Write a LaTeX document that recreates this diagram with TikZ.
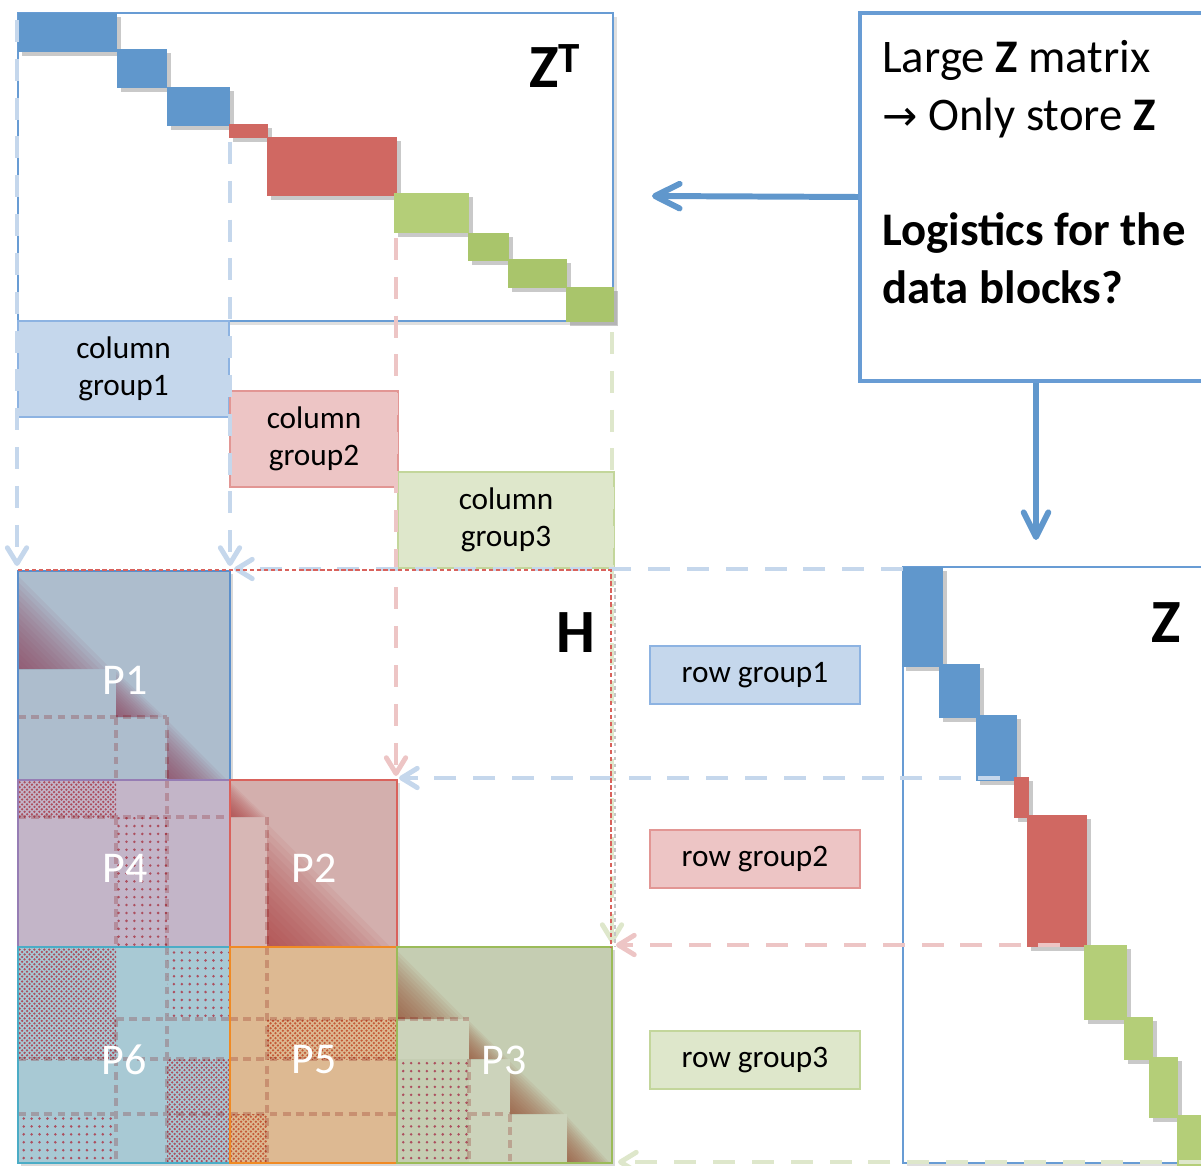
\documentclass[tikz,border=0pt]{standalone}
\usepackage{fontspec}
\setmainfont{Carlito}
\newfontfamily\arrowfont{DejaVu Sans}
\usetikzlibrary{arrows.meta,shadows,patterns.meta}

\definecolor{zblue}{RGB}{96,151,204}
\definecolor{zred}{RGB}{208,104,98}
\definecolor{zgreen}{RGB}{180,206,120}
\definecolor{zgreendk}{RGB}{169,197,107}
\definecolor{frameblue}{RGB}{104,156,212}
\definecolor{grpblue}{RGB}{197,215,236}
\definecolor{grpblueln}{RGB}{141,179,226}
\definecolor{grpred}{RGB}{237,197,197}
\definecolor{grpredln}{RGB}{226,150,148}
\definecolor{grpgreen}{RGB}{222,231,203}
\definecolor{grpgreenln}{RGB}{195,214,155}
\definecolor{pone}{RGB}{173,189,205}
\definecolor{ponefr}{RGB}{91,143,203}
\definecolor{pfour}{RGB}{195,181,200}
\definecolor{pfourfr}{RGB}{150,125,180}
\definecolor{ptwo}{RGB}{211,175,173}
\definecolor{ptwofr}{RGB}{217,98,92}
\definecolor{psix}{RGB}{168,201,212}
\definecolor{psixfr}{RGB}{75,172,198}
\definecolor{pfive}{RGB}{221,185,146}
\definecolor{pfivefr}{RGB}{240,138,36}
\definecolor{pthree}{RGB}{197,205,178}
\definecolor{pthreefr}{RGB}{155,187,89}
\definecolor{gradone}{RGB}{140,60,85}
\definecolor{gradtwo}{RGB}{172,58,58}
\definecolor{gradthree}{RGB}{150,75,50}
\definecolor{hatch}{RGB}{172,78,94}
\definecolor{hatchor}{RGB}{196,90,55}

% lower triangle of a diagonal block, darkest in its lower left corner
\newcommand{\diagtri}[5]{%
	\foreach \f in {0.95,0.89,...,0.05}
		\fill [#5,opacity=.07] ({#1},{#4-\f*(#4-#2)}) -- ({#1},{#4}) -- ({#1+\f*(#3-#1)},{#4}) -- cycle;%
}

\begin{document}
\begin{tikzpicture}[x=0.02cm,y=-0.02cm]
	\tikzstyle{every node}+=[inner sep=0pt]
	\tikzstyle{mframe}=[draw=frameblue,line width=0.9pt,fill=white,drop shadow={shadow xshift=2pt,shadow yshift=-2pt,opacity=.25,fill=black!50}]
	\tikzstyle{mblock}=[drop shadow={shadow xshift=2pt,shadow yshift=-2pt,opacity=.35,fill=black!60}]
	\tikzstyle{hblock}=[drop shadow={shadow xshift=1.5pt,shadow yshift=-1.5pt,opacity=.3,fill=black!50}]
	\tikzstyle{hframe}=[line width=1.1pt]
	\tikzstyle{subgrid}=[draw=red!50!black,draw opacity=.22,line width=2.2pt,dash pattern=on 4.5pt off 3pt]
	\tikzset{checks/.style={pattern={Dots[distance=2.8pt,radius=.72pt]},pattern color=#1,
		postaction={pattern={Dots[distance=2.8pt,radius=.72pt,xshift=1.4pt,yshift=1.4pt]},pattern color=#1}}}
	\tikzset{spots/.style={pattern={Dots[distance=4.5pt,radius=.8pt]},pattern color=#1}}
	\tikzstyle{grpbox}=[line width=0.9pt,align=center,font=\fontsize{17.8}{21}\selectfont]
	\tikzstyle{plabel}=[font=\fontsize{25}{25}\selectfont,text=white]
	\tikzstyle{mlabel}=[font=\fontsize{35}{35}\selectfont\bfseries,anchor=base west]
	\tikzstyle{guide}=[line width=2.8pt,dash pattern=on 12.5pt off 9.6pt,-{Straight Barb[length=9pt,width=11pt,round]}]
	\tikzstyle{solidarrow}=[draw=zblue,line width=3.4pt,-{Straight Barb[length=14pt,width=14pt,round]}]

	\useasboundingbox (0,0) rectangle (1201,1166);

	% the two factor matrices
	\filldraw [mframe] (18,13) rectangle (613,321);
	\filldraw [mframe] (903,567) rectangle (1260,1163);

	\fill [zblue,mblock] (18,13) rectangle (117,52);
	\fill [zblue,mblock] (117,49) rectangle (167,88);
	\fill [zblue,mblock] (167,87) rectangle (230,126);
	\fill [zred,mblock] (229,124) rectangle (268,138);
	\fill [zred,mblock] (267,137) rectangle (397,196);
	\fill [zgreen,mblock] (394,193) rectangle (469,233);
	\fill [zgreendk,mblock] (468,233) rectangle (509,261);
	\fill [zgreendk,mblock] (508,259) rectangle (567,288);
	\fill [zgreendk,mblock] (566,287) rectangle (614,322);

	\fill [zblue,mblock] (902,567) rectangle (943,667);
	\fill [zblue,mblock] (939,664) rectangle (980,718);
	\fill [zblue,mblock] (976,715) rectangle (1017,781);
	\fill [zred,mblock] (1014,777) rectangle (1029,818);
	\fill [zred,mblock] (1027,815) rectangle (1087,947);
	\fill [zgreen,mblock] (1084,945) rectangle (1127,1020);
	\fill [zgreen,mblock] (1124,1017) rectangle (1153,1060);
	\fill [zgreen,mblock] (1149,1057) rectangle (1178,1118);
	\fill [zgreen,mblock] (1177,1115) rectangle (1215,1170);

	% P1
	\fill [pone,hblock] (18,571) rectangle (230,780);
	\diagtri{18}{571}{116}{669}{gradone}
	\diagtri{116}{669}{167}{717}{gradone}
	\diagtri{167}{717}{230}{780}{gradone}
	\draw [subgrid] (18,717) -- (167,717) (116,717) -- (116,780) (167,717) -- (167,780);
	\draw [hframe,ponefr] (18,571) rectangle (230,780);

	% P4
	\fill [pfour,hblock] (18,780) rectangle (230,947);
	\fill [checks=hatch] (18,780) rectangle (116,817);
	\fill [spots=hatch] (116,817) rectangle (167,947);
	\draw [subgrid] (18,817) -- (230,817) (116,817) -- (116,947) (167,780) -- (167,947);
	\draw [hframe,pfourfr] (18,780) rectangle (230,947);

	% P2
	\fill [ptwo,hblock] (230,780) rectangle (397,947);
	\diagtri{230}{780}{268}{817}{gradtwo}
	\fill [white,opacity=.1] (230,817) rectangle (267,947);
	\diagtri{267}{817}{397}{947}{gradtwo}
	\draw [subgrid] (267,817) -- (267,947);
	\draw [hframe,ptwofr] (230,780) rectangle (397,947);

	% P6
	\fill [psix,hblock] (18,947) rectangle (230,1163);
	\fill [checks=hatch] (18,947) rectangle (116,1059);
	\fill [checks=hatch] (167,1059) rectangle (230,1163);
	\fill [spots=hatch] (18,1114) rectangle (116,1163);
	\fill [spots=hatch] (167,947) rectangle (230,1019);
	\draw [subgrid] (116,1019) -- (116,1163) (167,947) -- (167,1163) (116,1019) -- (230,1019) (18,1059) -- (230,1059) (18,1114) -- (230,1114);
	\draw [hframe,psixfr] (18,947) rectangle (230,1163);

	% P5
	\fill [pfive,hblock] (230,947) rectangle (397,1163);
	\fill [checks=hatchor] (267,1019) rectangle (397,1059);
	\fill [checks=hatchor] (230,1114) rectangle (267,1163);
	\draw [subgrid] (267,947) -- (267,1163) (230,1019) -- (397,1019) (230,1059) -- (397,1059) (230,1114) -- (397,1114);
	\draw [hframe,pfivefr] (230,947) rectangle (397,1163);

	% P3
	\fill [pthree,hblock] (397,947) rectangle (612,1163);
	\diagtri{397}{947}{469}{1019}{gradthree}
	\diagtri{469}{1019}{510}{1059}{gradthree}
	\diagtri{510}{1059}{567}{1114}{gradthree}
	\diagtri{567}{1114}{612}{1163}{gradthree}
	\fill [white,opacity=.12] (397,1019) rectangle (469,1059) (469,1059) rectangle (510,1163) (510,1114) rectangle (567,1163);
	\fill [spots=hatch] (397,1059) rectangle (469,1163);
	\draw [subgrid] (397,1019) -- (469,1019) (469,1059) -- (469,1163) (510,1114) -- (510,1163) (469,1114) -- (510,1114);
	\draw [hframe,pthreefr] (397,947) rectangle (612,1163);

	% group labels
	\node [grpbox,fill=grpblue,draw=grpblueln,minimum width=4.22cm,minimum height=1.92cm] (cg1) at (123.5,369) {column\\group1};
	\node [grpbox,fill=grpred,draw=grpredln,minimum width=3.36cm,minimum height=1.92cm] (cg2) at (314,439) {column\\group2};
	\node [grpbox,fill=grpgreen,draw=grpgreenln,minimum width=4.32cm,minimum height=1.92cm] (cg3) at (506,520) {column\\group3};
	\node [grpbox,fill=grpblue,draw=grpblueln,minimum width=4.2cm,minimum height=1.16cm] (rg1) at (755,675) {row group1};
	\node [grpbox,fill=grpred,draw=grpredln,minimum width=4.2cm,minimum height=1.16cm] (rg2) at (755,859) {row group2};
	\node [grpbox,fill=grpgreen,draw=grpgreenln,minimum width=4.2cm,minimum height=1.16cm] (rg3) at (755,1060) {row group3};

	% guides from the blocks of Z^T and Z into H
	\coordinate (g1a) at (17,20);
	\coordinate (g1b) at (17,566);
	\coordinate (g2a) at (230,142);
	\coordinate (g2b) at (230,566);
	\coordinate (g3a) at (396,238);
	\coordinate (g3b) at (396,776);
	\coordinate (g4a) at (612,332);
	\coordinate (g4b) at (612,943);
	\coordinate (r1a) at (903,569);
	\coordinate (r1b) at (234,569);
	\coordinate (r2a) at (1000,778);
	\coordinate (r2b) at (399,778);
	\coordinate (r3a) at (1060,945);
	\coordinate (r3b) at (616,945);
	\coordinate (r4a) at (1201,1162);
	\coordinate (r4b) at (618,1162);
	\draw [guide,grpblue] (g1a) -- (g1b);
	\draw [guide,grpblue] (g2a) -- (g2b);
	\draw [guide,grpred] (g3a) -- (g3b);
	\draw [guide,grpgreen] (g4a) -- (g4b);
	\draw [guide,grpblue] (r1a) -- (r1b);
	\draw [guide,grpblue] (r2a) -- (r2b);
	\draw [guide,grpred] (r3a) -- (r3b);
	\draw [guide,grpgreen] (r4a) -- (r4b);

	% outline of H
	\draw [gray!45,line width=1.4pt,dash pattern=on 2pt off 2pt] (615,574) -- (615,947);
	\draw [ptwofr,line width=0.7pt,dash pattern=on 2.5pt off 1.5pt] (18,570) -- (611,570) -- (611,947);

	\node [mlabel] (ztlabel) at (529,88) {Z\textsuperscript{T}};
	\node [mlabel] (hlabel) at (556,652) {H};
	\node [mlabel] (zlabel) at (1151,642) {Z};
	\node [plabel] (p1) at (125,680) {P1};
	\node [plabel] (p4) at (125,868) {P4};
	\node [plabel] (p2) at (314,868) {P2};
	\node [plabel] (p6) at (124,1060) {P6};
	\node [plabel] (p5) at (314,1060) {P5};
	\node [plabel] (p3) at (504,1060) {P3};

	% note box
	\node [draw=frameblue,line width=2.3pt,fill=white,minimum width=7.04cm,minimum height=7.36cm] (info) at (1036,197) {};
	\node [anchor=north west,align=left,font=\fontsize{26.6}{32.9}\selectfont] (infotext) at (882,40) {Large \textbf{Z} matrix\\{\arrowfont\fontsize{24}{24}\selectfont →} Only store \textbf{Z}\\[32.9pt]\textbf{Logistics for the}\\\textbf{data blocks?}};
	\coordinate (ztin) at (652,196);
	\coordinate (zin) at (1036,540);
	\draw [solidarrow] (info.west) -- (ztin);
	\draw [solidarrow] (info.south) -- (zin);
\end{tikzpicture}
\end{document}
